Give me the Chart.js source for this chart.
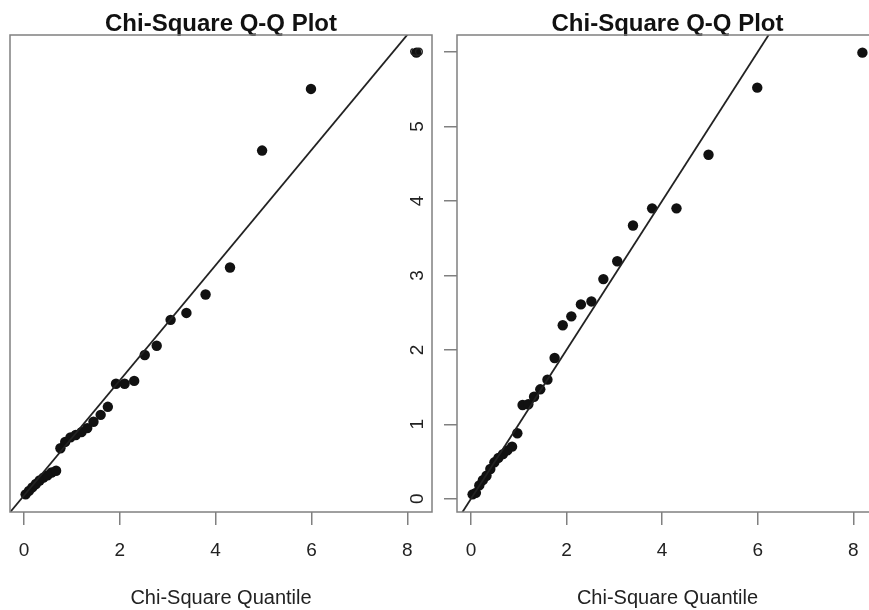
<!DOCTYPE html>
<html>
<head>
<meta charset="utf-8">
<script src="https://cdn.jsdelivr.net/npm/chart.js@4/dist/chart.umd.min.js"></script>
<style>
  html, body { margin: 0; padding: 0; background: #fff; overflow: hidden; width: 869px; height: 610px; }
  canvas { position: absolute; left: 0; top: 0; }
</style>
</head>
<body>
<canvas id="panelA" width="869" height="610"></canvas>
<canvas id="panelB" width="900" height="610"></canvas>
<script>
// Theoretical chi-square (df = 2) quantiles shared by both panels
const quantiles = [0.034, 0.103, 0.174, 0.248, 0.325, 0.405, 0.49, 0.575, 0.67, 0.76,
                   0.86, 0.97, 1.08, 1.20, 1.32, 1.45, 1.60, 1.75, 1.92, 2.10,
                   2.30, 2.52, 2.77, 3.06, 3.39, 3.79, 4.30, 4.97, 5.99, 8.19];

// Ordered squared distances for each sample
const distancesA = [0.02, 0.08, 0.14, 0.20, 0.26, 0.31, 0.35, 0.40, 0.43, 0.82,
                    0.93, 1.01, 1.05, 1.10, 1.17, 1.28, 1.40, 1.54, 1.94, 1.94,
                    1.99, 2.44, 2.60, 3.05, 3.17, 3.49, 3.96, 5.99, 7.06, 7.69];
const distancesB = [0.06, 0.08, 0.18, 0.25, 0.31, 0.40, 0.49, 0.55, 0.60, 0.65,
                    0.70, 0.88, 1.26, 1.27, 1.37, 1.47, 1.60, 1.89, 2.33, 2.45,
                    2.61, 2.65, 2.95, 3.19, 3.67, 3.90, 3.90, 4.62, 5.52, 5.99];

const xTickValues = [0, 2, 4, 6, 8];
const yTickValues = [0, 1, 2, 3, 4, 5, 6];

const chartTitle = 'Chi-Square Q-Q Plot';
const xAxisTitle = 'Chi-Square Quantile';

// Reference line y = a + b x
const refIntercept = 0;
const refSlope = 1;

const FONT = "'Liberation Sans', Arial, Helvetica, sans-serif";

// Axis limits extended by 4% on each side of the data range
function paddedRange(values) {
  const lo = Math.min(...values);
  const hi = Math.max(...values);
  const pad = (hi - lo) * 0.04;
  return [lo - pad, hi + pad];
}

// Frame around the plotting region
const plotBox = {
  id: 'plotBox',
  afterDraw(chart) {
    const { ctx, chartArea: a } = chart;
    ctx.save();
    ctx.strokeStyle = '#808080';
    ctx.lineWidth = 1.5;
    ctx.strokeRect(a.left, a.top, a.right - a.left, a.bottom - a.top);
    ctx.restore();
  }
};

function buildPanel(canvasId, distances, frame) {
  const [xMin, xMax] = paddedRange(quantiles);
  const [yMin, yMax] = paddedRange(distances);
  const tickGrid = {
    display: true, drawOnChartArea: false, drawTicks: true,
    tickLength: 13, color: '#808080', lineWidth: 1.5
  };
  return new Chart(document.getElementById(canvasId), {
    type: 'scatter',
    data: {
      datasets: [
        {
          data: quantiles.map((q, i) => ({ x: q, y: distances[i] })),
          pointRadius: 5.2, pointHoverRadius: 5.2,
          backgroundColor: '#111', borderWidth: 0, order: 1
        },
        {
          type: 'line',
          data: [xMin, xMax].map(v => ({ x: v, y: refIntercept + refSlope * v })),
          borderColor: '#222', borderWidth: 1.8,
          pointRadius: 0, fill: false, order: 0
        }
      ]
    },
    options: {
      responsive: false,
      animation: false,
      events: [],
      layout: { padding: { left: frame.left, right: frame.right, top: 0, bottom: 0 } },
      plugins: {
        legend: { display: false },
        tooltip: { enabled: false },
        title: {
          display: true, text: chartTitle, fullSize: false, color: '#111',
          font: { family: FONT, size: 24, weight: 'bold', lineHeight: 0.85 },
          padding: { top: 14.6, bottom: 0 }
        }
      },
      scales: {
        x: {
          type: 'linear', min: xMin, max: xMax,
          afterBuildTicks: s => { s.ticks = xTickValues.map(v => ({ value: v })); },
          afterFit: s => { s.height = 98; },
          grid: tickGrid,
          border: { display: false },
          ticks: { padding: 14, color: '#222', maxRotation: 0,
                   font: { family: FONT, size: 19 }, callback: v => String(v) },
          title: { display: true, text: xAxisTitle, color: '#222',
                   font: { family: FONT, size: 20 }, padding: { top: 0, bottom: 0 } }
        },
        y: {
          type: 'linear', min: yMin, max: yMax, position: 'left',
          display: frame.showY,
          afterBuildTicks: s => { s.ticks = yTickValues.map(v => ({ value: v })); },
          afterFit: s => { s.width = frame.showY ? 57 : 0; },
          grid: tickGrid,
          border: { display: false },
          ticks: { padding: 20.7, color: '#222', minRotation: 90, maxRotation: 90,
                   crossAlign: 'center', font: { family: FONT, size: 19 },
                   callback: v => String(v) }
        }
      }
    },
    plugins: [plotBox]
  });
}

buildPanel('panelA', distancesA, { left: 10, right: 437, showY: false });
buildPanel('panelB', distancesB, { left: 400, right: 22, showY: true });
</script>
</body>
</html>
